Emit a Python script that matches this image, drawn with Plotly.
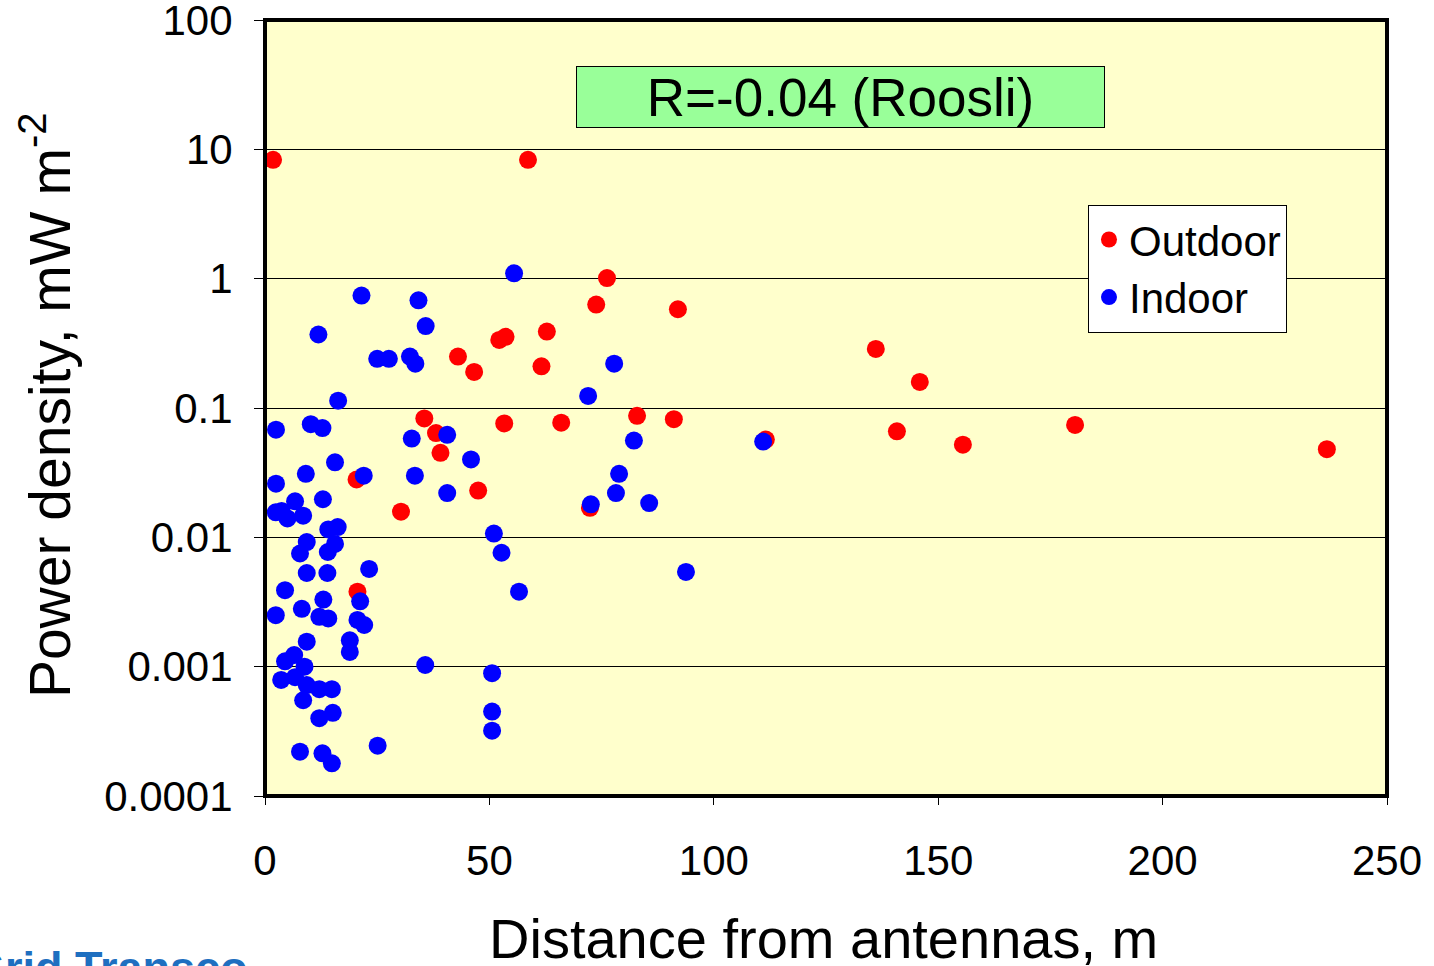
import plotly.graph_objects as go

# Outdoor measurements (distance m, power density mW m^-2)
outdoor_x = [1.8, 58.6, 76.2, 73.8, 92.0, 62.8, 53.6, 52.2, 43.0, 61.6, 46.6, 136.1, 145.9,
             35.5, 82.9, 91.1, 53.3, 66.0, 180.5, 38.1, 140.8, 111.6, 155.5, 236.6, 39.1,
             20.4, 47.5, 72.4, 30.3, 20.6]
outdoor_y = [8.3, 8.3, 1.01, 0.63, 0.58, 0.39, 0.355, 0.336, 0.25, 0.21, 0.19, 0.286, 0.159,
             0.083, 0.087, 0.082, 0.076, 0.077, 0.074, 0.064, 0.066, 0.057, 0.052, 0.048, 0.045,
             0.028, 0.023, 0.0169, 0.0158, 0.0038]

# Indoor measurements
indoor_x = [55.5, 21.5, 34.2, 35.8, 11.9, 25.0, 27.6, 32.3, 33.5, 77.8, 72.0, 16.3, 2.45,
            10.2, 12.8, 40.6, 32.7, 82.2, 111.0, 45.9, 15.6, 9.1, 22.0, 33.4, 78.9, 2.45,
            40.6, 78.2, 12.9, 6.7, 85.6, 72.6, 2.4, 3.7, 5.0, 8.5, 14.1, 16.2, 51.0, 9.3,
            15.6, 52.7, 14.0, 7.8, 9.3, 13.9, 23.2, 93.8, 4.46, 56.6, 21.2, 13.0, 2.4, 8.2,
            12.1, 14.1, 20.6, 22.1, 9.3, 18.9, 18.9, 35.7, 4.46, 6.5, 8.8, 3.6, 6.7, 9.3,
            12.1, 14.9, 8.5, 50.6, 12.1, 15.1, 50.6, 50.6, 25.1, 7.8, 12.8, 14.9]
indoor_y = [1.10, 0.74, 0.68, 0.43, 0.37, 0.24, 0.24, 0.25, 0.22, 0.22, 0.124, 0.114, 0.068,
            0.075, 0.070, 0.062, 0.058, 0.056, 0.055, 0.040, 0.038, 0.031, 0.030, 0.030, 0.031, 0.026,
            0.022, 0.022, 0.0197, 0.019, 0.0184, 0.018, 0.0156, 0.016, 0.014, 0.0147, 0.0115, 0.012, 0.0107, 0.0092,
            0.0089, 0.0076, 0.0077, 0.0075, 0.0053, 0.0053, 0.0057, 0.0054, 0.0039, 0.0038, 0.0032, 0.0033, 0.0025, 0.0028,
            0.00243, 0.00236, 0.0023, 0.0021, 0.00156, 0.0016, 0.0013, 0.00103, 0.0011, 0.00123, 0.001, 0.00079, 0.00083, 0.00072,
            0.00067, 0.00067, 0.00055, 0.00089, 0.0004, 0.00044, 0.00045, 0.00032, 0.000245, 0.00022, 0.000214, 0.000179]

x_ticks = [0, 50, 100, 150, 200, 250]
y_ticks = [100, 10, 1, 0.1, 0.01, 0.001, 0.0001]
y_ticktext = ["100", "10", "1", "0.1", "0.01", "0.001", "0.0001"]

FONT = "Liberation Sans, Arial, sans-serif"

fig = go.Figure()
fig.add_trace(go.Scatter(x=outdoor_x, y=outdoor_y, mode="markers", name="Outdoor",
                         marker=dict(color="#FF0000", size=18, line=dict(width=0))))
fig.add_trace(go.Scatter(x=indoor_x, y=indoor_y, mode="markers", name="Indoor",
                         marker=dict(color="#0000FF", size=18, line=dict(width=0))))

fig.update_layout(
    width=1434, height=966,
    margin=dict(l=265, r=47, t=20, b=170),
    paper_bgcolor="white",
    plot_bgcolor="#FFFFCC",
    font=dict(family=FONT, color="black", size=42),
    showlegend=True,
    legend=dict(x=0.7335, y=0.762, xanchor="left", yanchor="top",
                bgcolor="white", bordercolor="black", borderwidth=1,
                font=dict(size=42, family=FONT), itemsizing="trace",
                tracegroupgap=0),
    xaxis=dict(range=[0, 250], tickvals=x_ticks, showgrid=False, zeroline=False,
               ticks="outside", ticklen=8, tickcolor="black", tickwidth=1,
               tickfont=dict(size=42, family=FONT), ticklabelstandoff=20,
               ticklabeloverflow="allow", showline=False, automargin=False),
    yaxis=dict(type="log", range=[-4.0000001, 2.0000001], tickvals=y_ticks, ticktext=y_ticktext,
               showgrid=True, gridcolor="black", gridwidth=1, zeroline=False,
               ticks="outside", ticklen=10, tickcolor="black", tickwidth=1,
               tickfont=dict(size=42, family=FONT), ticklabelstandoff=13,
               ticklabeloverflow="allow", showline=False, automargin=False),
)

# plot frame
fig.add_shape(type="rect", xref="paper", yref="paper", x0=0, y0=0, x1=1, y1=1,
              line=dict(color="black", width=4), layer="above")

# correlation box
fig.add_annotation(xref="paper", yref="paper", x=0.513, y=0.901, xanchor="center", yanchor="middle",
                   text="R=-0.04 (Roosli)", showarrow=False,
                   font=dict(size=53, family=FONT, color="black"),
                   bgcolor="#99FF99", bordercolor="black", borderwidth=1,
                   width=527, height=60, borderpad=0)

# axis titles
fig.add_annotation(xref="paper", yref="paper", x=0.498, y=-0.183, xanchor="center", yanchor="middle",
                   text="Distance from antennas, m", showarrow=False,
                   font=dict(size=56, family=FONT, color="black"))
fig.add_annotation(xref="paper", yref="paper", x=-0.195, y=0.504, xanchor="center", yanchor="middle",
                   text="Power density, mW m<sup>-2</sup>", textangle=-90, showarrow=False,
                   font=dict(size=57, family=FONT, color="black"))

# logo fragment
fig.add_annotation(xref="paper", yref="paper", x=(250 - 265) / 1122, y=(796 - 940) / 776,
                   xanchor="right", yanchor="top", text="<b>Grid Transco</b>", showarrow=False,
                   font=dict(size=45, family=FONT, color="#1E6FC0"))

fig.write_html("out.html")
